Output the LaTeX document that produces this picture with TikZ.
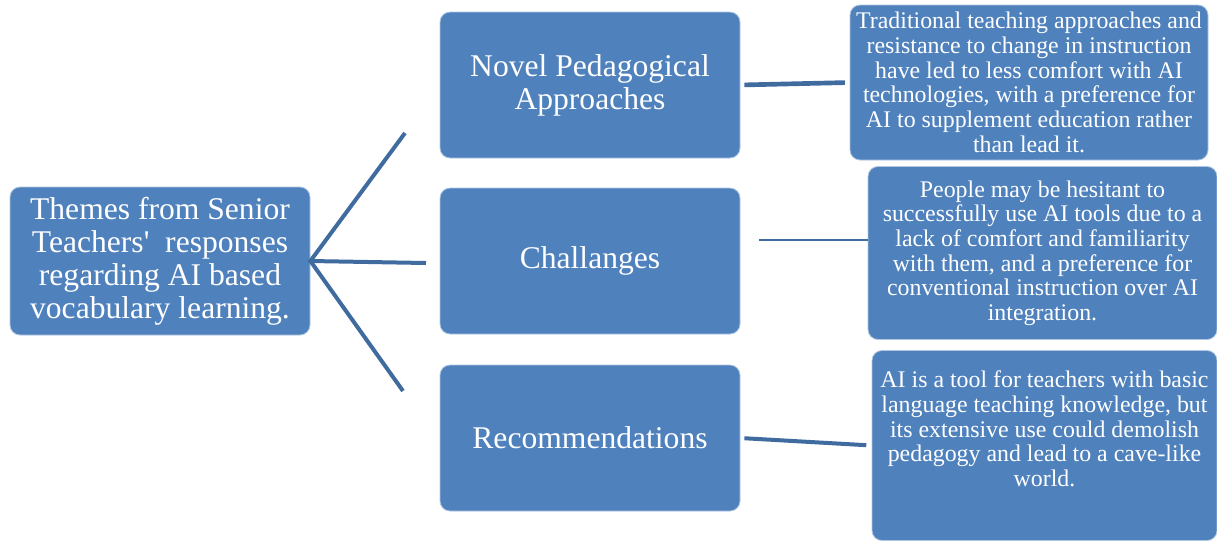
\documentclass[tikz,border=0pt]{standalone}
\usepackage{fontspec}
\newfontfamily\timesrm{Liberation Serif}
\usepackage{xcolor}
\usetikzlibrary{positioning}
\definecolor{boxblue}{HTML}{4F81BD}
\definecolor{lineblue}{HTML}{3F6B9F}

\begin{document}
\begin{tikzpicture}[x=0.75pt,y=-0.75pt,
    box/.style={draw=white!55!boxblue,line width=0.6pt,fill=boxblue,rounded corners=7.5pt,
      text=white,align=center,inner sep=2pt},
    big/.style={box,font=\timesrm\fontsize{23.7}{24.75}\selectfont},
    small/.style={box,font=\timesrm\fontsize{17.9}{18.5}\selectfont},
    link/.style={draw=lineblue,line width=3pt}]
    \useasboundingbox (0,0) rectangle (1217,540);
    % left and middle column
    \node[big,minimum width=225pt,minimum height=111pt] (theme) at (160,261)
      {Themes from Senior\\Teachers'\ \ responses\\regarding AI based\\vocabulary learning.};
    \node[big,minimum width=225pt,minimum height=109.5pt] (novel) at (590,85)
      {Novel Pedagogical\\Approaches};
    \node[big,minimum width=225pt,minimum height=109.5pt] (chall) at (590,261) {Challanges};
    \node[big,minimum width=225pt,minimum height=109.5pt] (recom) at (590,438) {Recommendations};
    % right column
    \node[small,minimum width=268.5pt,minimum height=116.25pt] (novelTxt) at (1029,82.5)
      {Traditional teaching approaches and\\resistance to change in instruction\\have led to less comfort with AI\\technologies, with a preference for\\AI to supplement education rather\\than lead it.};
    \node[small,minimum width=261.75pt,minimum height=129.75pt] (challTxt) at (1042.5,253)
      {People may be hesitant to\\successfully use AI tools due to a\\lack of comfort and familiarity\\with them, and a preference for\\conventional instruction over AI\\integration.};
    \node[small,minimum width=258.75pt,minimum height=142.5pt] (recomTxt) at (1044.5,445.5) {};
    \node[small,draw=none,fill=none,below=13.5pt of recomTxt.north] (recomLines)
      {AI is a tool for teachers with basic\\language teaching knowledge, but\\its extensive use could demolish\\pedagogy and lead to a cave-like\\world.};
    % fan
    \coordinate (fanUp) at (405,133);
    \coordinate (fanMid) at (426,263);
    \coordinate (fanDown) at (403,391);
    \draw[link] (fanUp) -- (theme.east) -- (fanDown);
    \draw[link] (theme.east) -- (fanMid);
    % connectors to the texts
    \coordinate (challFrom) at (759,240);
    \coordinate (challTo) at (868,240);
    \draw[link,line width=3.5pt,shorten <=3pt,shorten >=3.5pt] (novel.east) -- (novelTxt.west);
    \draw[link,line width=1.1pt] (challFrom) -- (challTo);
    \draw[link,shorten <=3pt,shorten >=4pt] (recom.east) -- (recomTxt.west);
  \end{tikzpicture}
\end{document}
